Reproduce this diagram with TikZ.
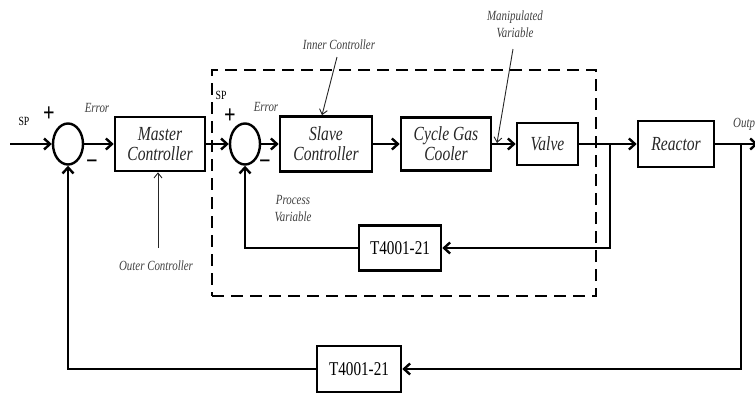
\documentclass[tikz,border=0pt]{standalone}
\usepackage{fontspec}
\setmainfont[FakeStretch=0.78]{Liberation Serif}
\usetikzlibrary{shapes.geometric,arrows.meta}
\begin{document}
\begin{tikzpicture}[x=1pt,y=-1pt,
  blk/.style={draw, line width=2.6pt, inner sep=0pt, align=center, text=black!85,
    font=\fontsize{20}{20}\selectfont\itshape},
  tbox/.style={draw, line width=2.6pt, inner sep=0pt, align=center,
    font=\fontsize{19.5}{20}\selectfont},
  sumj/.style={ellipse, draw, line width=2.4pt, minimum width=30pt, minimum height=41pt, inner sep=0pt},
  sig/.style={line width=2.4pt, -{Straight Barb[length=6pt,width=11pt]}},
  thinarr/.style={line width=0.9pt, black!85, -{Straight Barb[length=5pt,width=8pt]}},
  lbl/.style={font=\fontsize{14}{17}\selectfont\itshape, text=black!75, align=center, inner sep=0pt},
  sgn/.style={font=\fontsize{26}{26}\selectfont\bfseries, inner sep=0pt},
  splbl/.style={font=\fontsize{12.5}{12}\selectfont, inner sep=0pt},
  loopbox/.style={draw, line width=2.6pt, dash pattern=on 12pt off 7pt, inner sep=0pt}
]
\useasboundingbox (0,0) rectangle (755,394);

% dashed inner-loop boundary
\node[loopbox, minimum width=384pt, minimum height=226pt] (innerloop) at (404,183) {};

% blocks
\node[sumj] (c1) at (68,144) {};
\node[blk, minimum width=90pt, minimum height=54pt] (master) at (160,144) {Master\\Controller};
\node[sumj] (c2) at (245,144) {};
\node[blk, minimum width=92pt, minimum height=55pt] (slave) at (326,144) {Slave\\Controller};
\node[blk, minimum width=90pt, minimum height=53pt] (cooler) at (446,144) {Cycle Gas\\Cooler};
\node[blk, minimum width=61pt, minimum height=42pt] (valve) at (547.5,144) {Valve};
\node[blk, minimum width=76pt, minimum height=46pt] (reactor) at (676,144) {Reactor};
\node[tbox, minimum width=82pt, minimum height=45pt] (fb1) at (400,248) {T4001-21};
\node[tbox, minimum width=84pt, minimum height=46pt] (fb2) at (359,369) {T4001-21};

% coordinates
\coordinate (in) at (10,144);
\coordinate (out) at (758,144);
\coordinate (b1) at (610,144);
\coordinate (b2) at (741,144);

% signal connectors
\draw[sig] (in) -- (c1.west);
\draw[sig] (c1.east) -- (master.west);
\draw[sig] (master.east) -- (c2.west);
\draw[sig] (c2.east) -- (slave.west);
\draw[sig] (slave.east) -- (cooler.west);
\draw[sig] (cooler.east) -- (valve.west);
\draw[sig] (valve.east) -- (reactor.west);
\draw[sig] (reactor.east) -- (out);
\draw[sig] (b1) |- (fb1.east);
\draw[sig] (fb1.west) -| (c2.south);
\draw[sig] (b2) |- (fb2.east);
\draw[sig] (fb2.west) -| (c1.south);

% signs and labels
\node[splbl] (sp1) at (24,121) {SP};
\node[sgn] (p1) at (49,114) {+};
\node[sgn] (m1) at (92,165) {\symbol{"2212}};
\node[lbl] (err1) at (97,108) {Error};
\node[splbl] (sp2) at (221,95) {SP};
\node[sgn] (p2) at (230,116) {+};
\node[sgn] (m2) at (265,165) {\symbol{"2212}};
\node[lbl] (err2) at (266,107) {Error};

\node[lbl] (innerlbl) at (339,45) {Inner Controller};
\coordinate (ia) at (337,57);
\draw[thinarr] (ia) -- (slave.north -| 322,0);

\node[lbl] (manlbl) at (515,24) {Manipulated\\Variable};
\coordinate (ma) at (513,49);
\coordinate (mb) at (497,143);
\draw[thinarr] (ma) -- (mb);

\node[lbl] (pvlbl) at (293,209) {Process\\Variable};

\node[lbl] (outerlbl) at (156,266) {Outer Controller};
\coordinate (oa) at (158,248);
\draw[thinarr] (oa) -- (master.south -| oa);

\node[lbl, anchor=west] (outlbl) at (733,124) {Output};
\end{tikzpicture}
\end{document}
